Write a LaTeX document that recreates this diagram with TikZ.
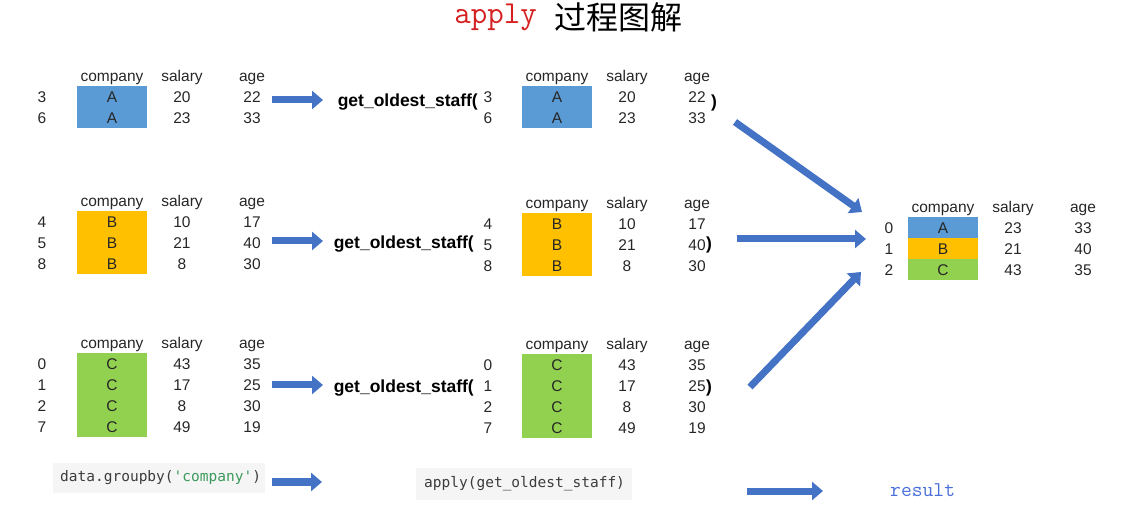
\documentclass[tikz,border=0pt]{standalone}
\usepackage{fontspec}
\setmainfont{Liberation Sans}
\newfontfamily\cjk{Noto Sans CJK SC}
\newfontfamily\dmono{DejaVu Sans Mono}
\usetikzlibrary{arrows.meta}
\definecolor{cA}{HTML}{5B9BD5}
\definecolor{cB}{HTML}{FFC000}
\definecolor{cC}{HTML}{92D050}
\definecolor{arrowblue}{HTML}{4472C4}
\definecolor{txt}{HTML}{262626}
\definecolor{codebg}{HTML}{F5F5F5}
\definecolor{codetx}{HTML}{3C3C3C}
\definecolor{codestr}{HTML}{3A9A5B}
\definecolor{resblue}{HTML}{4A6FD8}
\definecolor{titlered}{HTML}{D42020}
\tikzset{
  cell/.style={text=txt, font=\fontsize{15.5}{17}\selectfont, inner sep=0pt, text height=11pt, text depth=0pt, anchor=center},
  fn/.style={text=black, font=\fontsize{17.5}{19}\selectfont\bfseries, inner sep=0pt, text height=12.5pt, text depth=1pt},
  barrow/.style={draw=arrowblue, line width=7pt, -{Triangle[length=11pt,width=18pt]}},
  codebox/.style={fill=codebg, text=codetx, font=\dmono\fontsize{14.5}{16}\selectfont, inner sep=0pt, minimum height=30pt, anchor=west},
}
% #1 prefix, #2 index x, #3 box left, #4 first row y, #5 rows i/s/a/l/c
\newcommand\grptable[5]{%
  \node[cell] (#1-hc) at (#3+35,#4-21) {company};
  \node[cell] (#1-hs) at (#3+105,#4-21) {salary};
  \node[cell] (#1-ha) at (#3+175,#4-21) {age};
  \foreach \i/\s/\a/\l/\c [count=\k] in {#5} {
    \fill[\c] (#3,#4+\k*21-21-10.5) rectangle (#3+70,#4+\k*21-21+10.5);
    \node[cell] (#1-\k-i) at (#2,#4+\k*21-21) {\i};
    \node[cell] (#1-\k-l) at (#3+35,#4+\k*21-21) {\l};
    \node[cell] (#1-\k-s) at (#3+105,#4+\k*21-21) {\s};
    \node[cell] (#1-\k-a) at (#3+175,#4+\k*21-21) {\a};
  }%
}
\begin{document}
\begin{tikzpicture}[x=1pt,y=-1pt]
\useasboundingbox (0,0) rectangle (1141,526);
% title
\node[anchor=east, inner sep=0pt, text=titlered, font=\ttfamily\fontsize{32}{34}\selectfont] (t1) at (537,17) {apply};
\node[anchor=west, inner sep=0pt, text=black, font=\cjk\fontsize{32}{34}\selectfont] (t2) at (554,17) {过程图解};

% left tables
\grptable{LA}{42}{77}{97}{3/20/22/A/cA,6/23/33/A/cA}
\grptable{LB}{42}{77}{222}{4/10/17/B/cB,5/21/40/B/cB,8/8/30/B/cB}
\grptable{LC}{42}{77}{364}{0/43/35/C/cC,1/17/25/C/cC,2/8/30/C/cC,7/49/19/C/cC}

% middle tables
\grptable{MA}{488}{522}{97}{3/20/22/A/cA,6/23/33/A/cA}
\grptable{MB}{488}{522}{224}{4/10/17/B/cB,5/21/40/B/cB,8/8/30/B/cB}
\grptable{MC}{488}{522}{365}{0/43/35/C/cC,1/17/25/C/cC,2/8/30/C/cC,7/49/19/C/cC}

% function calls
\node[fn, anchor=east] (fA) at (478,101) {get\_oldest\_staff(};
\node[fn, anchor=east] (fB) at (474,243) {get\_oldest\_staff(};
\node[fn, anchor=east] (fC) at (474,387) {get\_oldest\_staff(};
\node[fn] (pA) at (714,102) {)};
\node[fn] (pB) at (709,244) {)};
\node[fn] (pC) at (709,387) {)};

% result table
\grptable{R}{889}{908}{228}{0/23/33/A/cA,1/21/40/B/cB,2/43/35/C/cC}

% arrow coordinates
\coordinate (a1s) at (272,100); \coordinate (a1e) at (323,100);
\coordinate (a2s) at (272,241); \coordinate (a2e) at (323,241);
\coordinate (a3s) at (272,385); \coordinate (a3e) at (323,385);
\coordinate (d1s) at (735,122); \coordinate (d1e) at (862,212);
\coordinate (d2s) at (737,239); \coordinate (d2e) at (866,239);
\coordinate (d3s) at (750,387); \coordinate (d3e) at (861,272);
\coordinate (b1s) at (272,482); \coordinate (b1e) at (322,482);
\coordinate (b2s) at (747,491); \coordinate (b2e) at (823,491);

\draw[barrow] (a1s) -- (a1e);
\draw[barrow] (a2s) -- (a2e);
\draw[barrow] (a3s) -- (a3e);
\draw[barrow] (d1s) -- (d1e);
\draw[barrow] (d2s) -- (d2e);
\draw[barrow] (d3s) -- (d3e);
\draw[barrow] (b1s) -- (b1e);
\draw[barrow] (b2s) -- (b2e);

% code boxes
\node[codebox, minimum width=212pt, text width=212pt, align=left] (code1) at (53,478) {\hspace*{7pt}data.groupby(\textcolor{codestr}{'company'})};
\node[codebox, minimum width=216pt, text width=216pt, align=left, minimum height=32pt] (code2) at (416,484) {\hspace*{8pt}apply(get\_oldest\_staff)};

% result label
\node[anchor=west, inner sep=0pt, text=resblue, font=\ttfamily\fontsize{21}{23}\selectfont] (res) at (890,490) {result};
\end{tikzpicture}
\end{document}
